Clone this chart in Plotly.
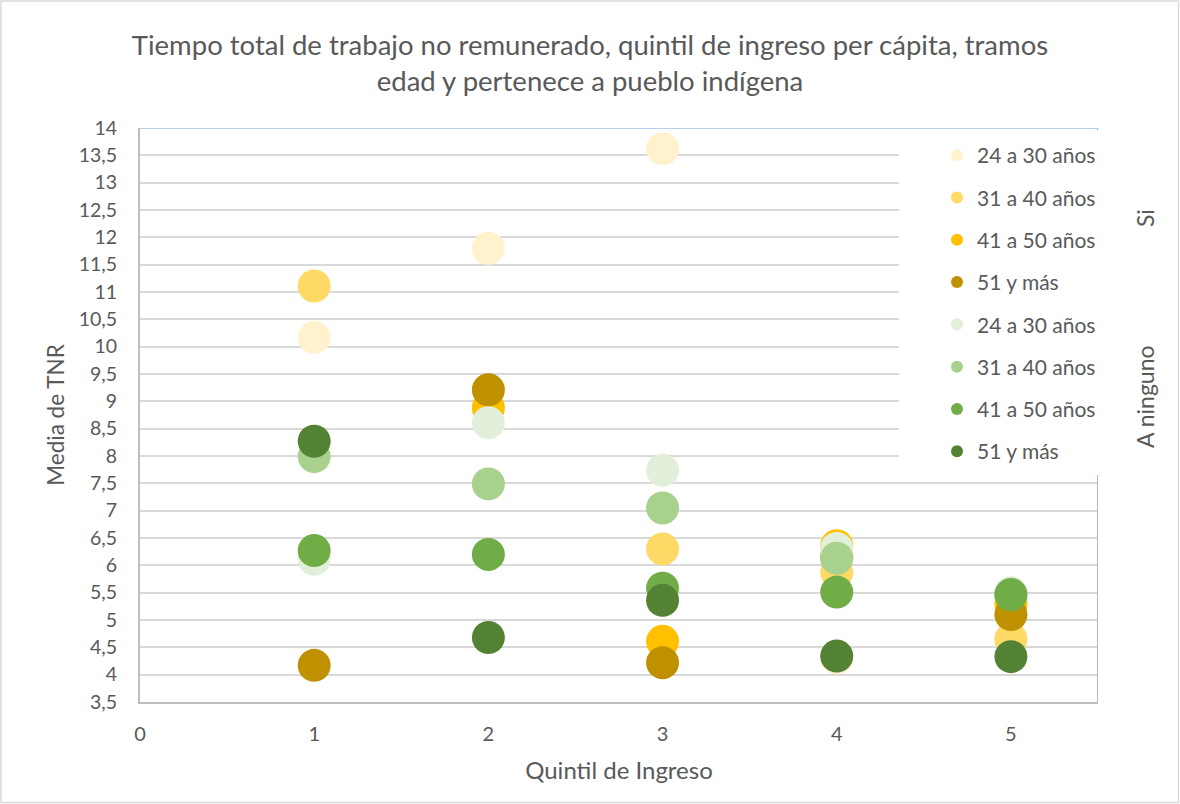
import plotly.graph_objects as go

# ---------------- data ----------------
quintiles = [1, 2, 3, 4, 5]
series_names = ["24 a 30 años", "31 a 40 años", "41 a 50 años", "51 y más",
                "24 a 30 años", "31 a 40 años", "41 a 50 años", "51 y más"]

si_24_30 = [10.17, 11.80, 13.62, 4.31, None]
si_31_40 = [11.11, None, 6.30, 5.87, 4.65]
si_41_50 = [None, 8.88, 4.61, 6.36, 5.29]
si_51_mas = [4.17, 9.21, 4.22, 6.15, 5.10]
no_24_30 = [6.11, 8.61, 7.74, 6.31, 5.50]
no_31_40 = [7.99, 7.49, 7.05, 6.13, 5.47]
no_41_50 = [6.27, 6.20, 5.58, 5.51, 5.46]
no_51_mas = [8.27, 4.68, 5.36, 4.34, 4.33]

y_ticks = [3.5 + 0.5 * i for i in range(22)]
x_ticks = [0, 1, 2, 3, 4, 5]

colors = ["#FFF2CC", "#FFD966", "#FFC000", "#BF9000",
          "#E2EFDA", "#A9D18E", "#70AD47", "#548235"]
all_series = [si_24_30, si_31_40, si_41_50, si_51_mas,
              no_24_30, no_31_40, no_41_50, no_51_mas]

FONT = "Lato"
GRAY = "#595959"

fig = go.Figure()
for i, (name, vals, col) in enumerate(zip(series_names, all_series, colors)):
    fig.add_trace(go.Scatter(
        x=quintiles, y=vals, mode="markers", name=name,
        legendgroup=f"g{i}",
        marker=dict(size=33, color=col, line=dict(width=0)),
        hoverinfo="x+y+name",
    ))

# plot area geometry (px)
L, R, T, B = 140, 1098, 128, 702
W, H = 1180, 804


def px_x(p):
    return (p - L) / (R - L)


def px_y(p):
    return (B - p) / (B - T)


shapes = [
    dict(type="line", xref="x", yref="y", x0=0, x1=5.5, y0=14, y1=14,
         line=dict(color="#9DC3E6", width=1.5), layer="above"),
    dict(type="line", xref="x", yref="y", x0=5.5, x1=5.5, y0=3.5, y1=14,
         line=dict(color="#9DC3E6", width=2), layer="above"),
    dict(type="rect", xref="paper", yref="paper",
         x0=px_x(899), x1=px_x(1101), y0=px_y(475), y1=px_y(130.5),
         fillcolor="white", line=dict(width=0), layer="above"),
    dict(type="rect", xref="paper", yref="paper",
         x0=px_x(1), x1=px_x(1178.5), y0=px_y(802.5), y1=px_y(1),
         fillcolor="rgba(0,0,0,0)", line=dict(color="#D9D9D9", width=1.5)),
]

annotations = [
    dict(text="Si", xref="paper", yref="paper", x=px_x(1145), y=px_y(218),
         xanchor="center", yanchor="middle",
         textangle=-90, showarrow=False, font=dict(family=FONT, size=23, color=GRAY)),
    dict(text="A ninguno", xref="paper", yref="paper", x=px_x(1145), y=px_y(397),
         xanchor="center", yanchor="middle",
         textangle=-90, showarrow=False, font=dict(family=FONT, size=23, color=GRAY)),
]

fig.update_layout(
    width=W, height=H,
    margin=dict(l=L, r=W - R, t=T, b=H - B, pad=0),
    paper_bgcolor="white", plot_bgcolor="white",
    separators=",.",
    title=dict(
        text="Tiempo total de trabajo no remunerado, quintil de ingreso per cápita, tramos<br>edad y pertenece a pueblo indígena",
        x=0.5, xanchor="center", y=1 - 55 / H, yanchor="middle",
        font=dict(family=FONT, size=27.5, color=GRAY),
    ),
    font=dict(family=FONT, color=GRAY),
    showlegend=True,
    legend=dict(
        x=px_x(937), xanchor="left", y=px_y(135), yanchor="top",
        bgcolor="rgba(255,255,255,0)", borderwidth=0,
        font=dict(family=FONT, size=21, color=GRAY),
        itemsizing="constant", tracegroupgap=12,
    ),
    shapes=shapes,
    annotations=annotations,
)

fig.update_xaxes(
    range=[0, 5.5], tickvals=x_ticks, showgrid=False, zeroline=False,
    showline=True, linecolor="#BFBFBF", linewidth=2,
    ticks="", ticklabelstandoff=13,
    tickfont=dict(family=FONT, size=20, color=GRAY),
    title=dict(text="Quintil de Ingreso", font=dict(family=FONT, size=24, color=GRAY), standoff=18),
)
fig.update_yaxes(
    range=[3.5, 14], tickvals=y_ticks, showgrid=True, gridcolor="#D9D9D9", gridwidth=1.5,
    zeroline=False, showline=True, linecolor="#BFBFBF", linewidth=2,
    ticks="", ticklabelstandoff=17,
    tickfont=dict(family=FONT, size=19.5, color=GRAY),
    title=dict(text="Media de TNR", font=dict(family=FONT, size=22.5, color=GRAY), standoff=8),
)

fig.write_html(
    "out.html",
    config={"displayModeBar": False},
    post_script="document.body.style.margin='0';document.body.style.overflow='hidden';",
)
